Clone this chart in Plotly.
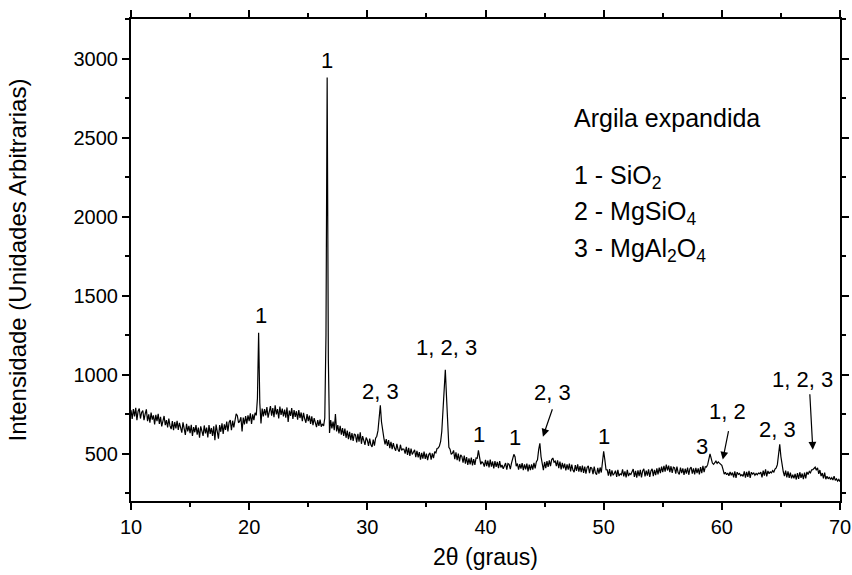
import plotly.graph_objects as go

# ---------------- data ----------------
two_theta_start = 10.0
two_theta_step = 0.1

intensity = [
    775, 720, 782, 735, 790, 712, 768, 785, 722, 760,   # 10
    772, 712, 752, 780, 705, 748, 695, 760, 715, 742,   # 11
    685, 745, 705, 752, 688, 732, 672, 720, 738, 680,   # 12
    712, 665, 722, 675, 655, 705, 648, 700, 660, 708,   # 13
    650, 695, 655, 632, 698, 662, 618, 688, 640, 676,   # 14
    630, 682, 612, 668, 635, 680, 620, 665, 600, 672,   # 15
    635, 612, 678, 628, 665, 602, 680, 625, 662, 612,   # 16
    672, 585, 684, 632, 595, 680, 638, 692, 625, 685,   # 17
    650, 702, 640, 698, 712, 648, 708, 665, 718, 752,   # 18
    740, 695, 705, 730, 640, 728, 685, 738, 690, 742,   # 19
    705, 755, 688, 748, 712, 758, 742, 850, 1265, 820,  # 20
    690, 785, 735, 782, 742, 795, 728, 780, 800, 740,   # 21
    788, 730, 805, 748, 782, 722, 798, 745, 785, 735,   # 22
    778, 728, 792, 700, 772, 738, 788, 720, 775, 732,   # 23
    768, 715, 775, 725, 760, 705, 758, 720, 695, 750,   # 24
    705, 740, 688, 735, 680, 725, 690, 668, 712, 675,   # 25
    715, 670, 688, 675, 725, 1250, 2880, 1100, 630, 712,  # 26
    660, 702, 648, 750, 640, 680, 628, 675, 620, 662,   # 27
    612, 658, 600, 645, 592, 638, 585, 630, 580, 625,   # 28
    618, 570, 625, 575, 635, 562, 610, 570, 555, 602,   # 29
    585, 548, 595, 555, 542, 588, 550, 598, 610, 645,   # 30
    760, 805, 700, 625, 598, 558, 592, 548, 585, 535,   # 31
    575, 528, 566, 535, 518, 562, 525, 512, 556, 520,   # 32
    530, 528, 500, 542, 492, 536, 485, 532, 495, 508,   # 33
    524, 478, 518, 476, 510, 462, 505, 468, 512, 466,   # 34
    500, 458, 494, 505, 462, 502, 472, 512, 505, 532,   # 35
    535, 548, 575, 640, 780, 920, 1030, 860, 640, 540,  # 36
    528, 495, 502, 520, 465, 508, 458, 500, 450, 492,   # 37
    482, 442, 488, 436, 478, 428, 470, 432, 475, 425,   # 38
    465, 428, 472, 470, 520, 485, 432, 448, 440, 418,   # 39
    460, 420, 455, 412, 462, 418, 450, 406, 452, 416,   # 40
    447, 408, 452, 412, 428, 404, 430, 440, 398, 437,   # 41
    432, 402, 440, 470, 495, 480, 420, 437, 398, 434,   # 42
    405, 440, 395, 432, 400, 437, 388, 430, 396, 432,   # 43
    398, 442, 406, 447, 460, 525, 565, 480, 425, 395,   # 44
    447, 408, 452, 416, 457, 420, 462, 472, 446, 452,   # 45
    420, 457, 408, 450, 400, 442, 406, 437, 393, 432,   # 46
    398, 437, 388, 430, 396, 383, 427, 390, 432, 386,   # 47
    420, 383, 424, 378, 417, 373, 412, 422, 376, 414,   # 48
    407, 370, 417, 378, 366, 410, 373, 412, 380, 440,   # 49
    515, 460, 398, 397, 360, 402, 356, 394, 363, 374,   # 50
    392, 353, 397, 358, 372, 366, 400, 356, 387, 350,   # 51
    397, 358, 374, 368, 384, 402, 353, 390, 348, 394,   # 52
    358, 397, 350, 390, 404, 356, 392, 360, 400, 353,   # 53
    390, 404, 358, 397, 363, 407, 368, 412, 376, 417,   # 54
    383, 422, 386, 430, 393, 424, 383, 420, 378, 414,   # 55
    410, 373, 417, 380, 368, 412, 376, 407, 366, 404,   # 56
    373, 412, 366, 404, 414, 373, 407, 368, 410, 376,   # 57
    407, 368, 414, 376, 422, 383, 417, 415, 430, 460,   # 58
    498, 470, 440, 432, 445, 452, 438, 448, 440, 430,   # 59
    425, 400, 370, 382, 366, 377, 360, 384, 363, 380,   # 60
    350, 387, 346, 382, 368, 374, 360, 367, 356, 387,   # 61
    348, 384, 353, 390, 346, 382, 370, 377, 363, 374,   # 62
    366, 377, 373, 382, 350, 392, 360, 400, 356, 390,   # 63
    373, 384, 378, 392, 383, 402, 410, 430, 500, 558,   # 64
    480, 420, 385, 358, 392, 350, 387, 346, 380, 343,   # 65
    367, 343, 372, 336, 377, 340, 382, 346, 374, 338,   # 66
    380, 343, 384, 368, 387, 378, 397, 398, 408, 414,   # 67
    395, 410, 372, 396, 358, 377, 343, 380, 338, 357,   # 68
    340, 352, 336, 347, 333, 357, 330, 340, 326, 337,   # 69
    322,                                                # 70
]
two_theta = [round(two_theta_start + i * two_theta_step, 1) for i in range(len(intensity))]

peak_labels = ["1", "1", "2, 3", "1, 2, 3", "1", "1", "2, 3", "1", "3", "1, 2", "2, 3", "1, 2, 3"]
# label anchor positions (data units)
label_x = [21.0, 26.58, 31.15, 36.73, 39.44, 42.49, 45.70, 50.02, 58.31, 60.51, 64.74, 66.85]
label_y = [1371, 2987, 891, 1169, 620, 601, 885, 607, 544, 765, 652, 967]

# arrows: (tail_x, tail_y, head_x, head_y)
arrows = [
    (45.70, 790, 44.86, 607),
    (60.59, 652, 60.08, 462),
    (67.44, 885, 67.70, 525),
]

legend_title = "Argila expandida"
legend_lines = ["1 - SiO<sub>2</sub>", "2 - MgSiO<sub>4</sub>", "3 - MgAl<sub>2</sub>O<sub>4</sub>"]

FONT = "Liberation Sans, Arial, sans-serif"

fig = go.Figure()
fig.add_trace(go.Scatter(x=two_theta, y=intensity, mode="lines",
                         line=dict(color="black", width=1.2), showlegend=False))

annotations = []
for t, x, y in zip(peak_labels, label_x, label_y):
    annotations.append(dict(x=x, y=y, xref="x", yref="y", text=t, showarrow=False,
                            font=dict(family=FONT, size=22, color="black"),
                            xanchor="center", yanchor="middle"))
for tx, ty, hx, hy in arrows:
    annotations.append(dict(x=hx, y=hy, ax=tx, ay=ty, xref="x", yref="y", axref="x", ayref="y",
                            text="", showarrow=True, arrowhead=2, arrowsize=1.3,
                            arrowwidth=1.2, arrowcolor="black"))

annotations.append(dict(x=47.3, y=2621, xref="x", yref="y", text=legend_title, showarrow=False,
                        font=dict(family=FONT, size=25, color="black"), xanchor="left", yanchor="middle"))
for t, y in zip(legend_lines, [2249, 2021, 1788]):
    annotations.append(dict(x=47.3, y=y, xref="x", yref="y", text=t, showarrow=False,
                            font=dict(family=FONT, size=25, color="black"), xanchor="left", yanchor="middle"))

axis_common = dict(showline=True, linecolor="black", linewidth=2, mirror="ticks",
                   ticks="outside", ticklen=7, tickwidth=1.5, tickcolor="black",
                   showgrid=False, zeroline=False, automargin=False,
                   tickfont=dict(family=FONT, size=20, color="black"))

fig.update_layout(
    width=852, height=575,
    margin=dict(l=131, r=12, t=19, b=74),
    paper_bgcolor="white", plot_bgcolor="white",
    font=dict(family=FONT, color="black"),
    annotations=annotations,
    xaxis=dict(range=[10, 70], tick0=10, dtick=10,
               minor=dict(ticks="outside", ticklen=4, dtick=5, tickcolor="black", tickwidth=1.5),
               title=dict(text="2θ (graus)", font=dict(family=FONT, size=23, color="black"), standoff=12),
               **axis_common),
    yaxis=dict(range=[200, 3250], tick0=500, dtick=500,
               minor=dict(ticks="outside", ticklen=4, dtick=250, tickcolor="black", tickwidth=1.5),
               title=dict(text="Intensidade (Unidades Arbitrarias)", font=dict(family=FONT, size=24, color="black"), standoff=40),
               **axis_common),
)

fig.write_html("out.html")
